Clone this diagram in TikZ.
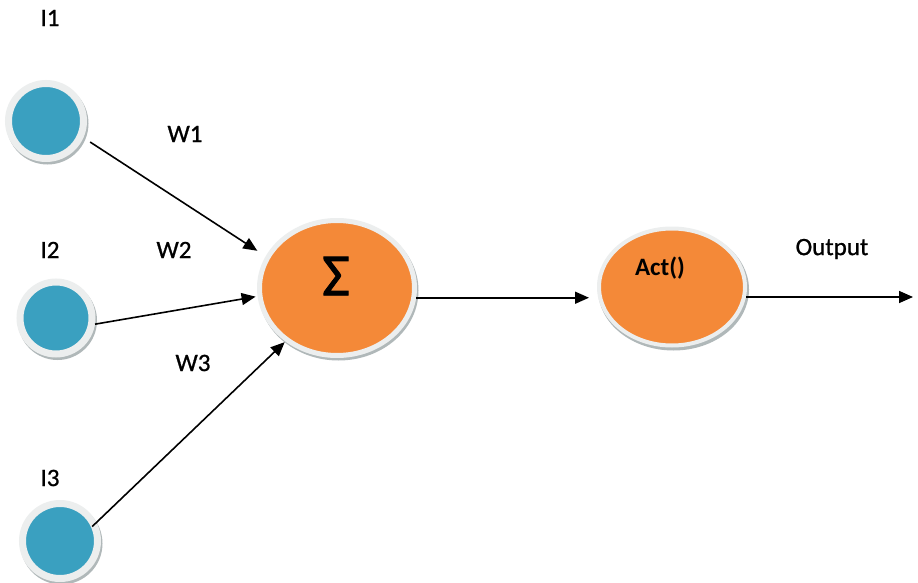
\documentclass[tikz,border=0pt]{standalone}
\usepackage{fontspec}
\setmainfont{Carlito}
\newfontfamily\lblfont[FakeBold=0.9]{Carlito}
\newfontfamily\symfont[FakeBold=1.6]{Carlito}
\usetikzlibrary{arrows.meta,shapes.geometric}

\definecolor{inblue}{RGB}{58,160,192}
\definecolor{sumorange}{RGB}{244,137,56}
\definecolor{ringgray}{RGB}{236,238,238}
\definecolor{shadowgray}{RGB}{150,160,162}

\tikzset{
  shadowed/.style={preaction={draw=shadowgray!75, line width=#1,
      transform canvas={shift={(1.5pt,-2.5pt)}}}},
  inputnode/.style={circle, fill=inblue, draw=ringgray, line width=7pt,
      minimum size=75pt, inner sep=0pt, shadowed=7pt},
  unitnode/.style={ellipse, fill=sumorange, draw=ringgray, inner sep=0pt,
      shadowed=5pt},
  lbl/.style={font=\lblfont\fontsize{25}{25}\selectfont, inner sep=0pt},
  arr/.style={line width=1.6pt, -{Triangle[length=14pt,width=12pt]}},
}

\begin{document}
\begin{tikzpicture}[x=1pt,y=-1pt]
  \fill[white] (0,0) rectangle (918,583);
  \useasboundingbox (0,0) rectangle (918,583);

  % input neurons
  \node[inputnode] (i1) at (46,121) {};
  \node[inputnode, minimum size=72pt] (i2) at (56,318) {};
  \node[inputnode] (i3) at (60,541) {};

  % summation unit and activation unit
  \node[unitnode, line width=5pt, minimum width=155pt, minimum height=135pt] (sigma) at (337,288) {};
  \node[unitnode, line width=4pt, minimum width=146pt, minimum height=117pt] (act) at (672,287) {};

  % texts
  \node[lbl] (l1) at (50,18) {I1};
  \node[lbl] (l2) at (50,250) {I2};
  \node[lbl] (l3) at (50,478) {I3};
  \node[lbl] (w1) at (185,134) {W1};
  \node[lbl] (w2) at (174,250) {W2};
  \node[lbl] (w3) at (193,363) {W3};
  \node[lbl] (outl) at (832,249) {Output};
  \node[font=\symfont\fontsize{60}{60}\selectfont, inner sep=0pt] (sym) at (336,276) {Σ};
  \node[lbl, font=\fontsize{25}{25}\selectfont\bfseries] (actl) at (660,268) {Act()};

  \coordinate (out) at (913,297);

  % weighted connections
  \draw[arr, shorten <=8pt, shorten >=10pt] (i1.-24) -- (sigma.156);
  \draw[arr, shorten <=0pt, shorten >=2pt] (i2.-9) -- (sigma.186.5);
  \draw[arr, shorten <=-6pt, shorten >=1pt] (i3.27) -- (sigma.226.6);
  \draw[arr, shorten >=8pt] (sigma.-7) -- (sigma.-7 -| act.west);
  \draw[arr] (act.-7 |- out) -- (out);
\end{tikzpicture}
\end{document}
